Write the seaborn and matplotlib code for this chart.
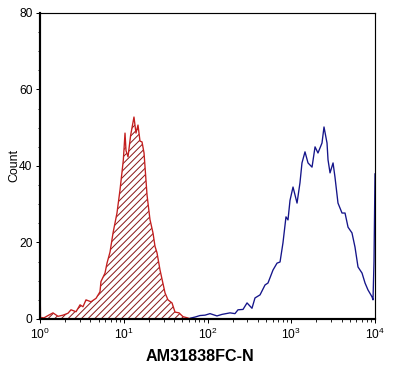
import numpy as np
import pandas as pd
import matplotlib
matplotlib.use('Agg')
import matplotlib.pyplot as plt
import matplotlib.ticker as mticker
import seaborn as sns

# Isotype control histogram (red, hatched): log10 intensity / event count
iso_log = [0.000, 0.006, 0.048, 0.096, 0.155, 0.215, 0.275, 0.334, 0.370, 0.430,
           0.478, 0.513, 0.549, 0.609, 0.669, 0.716, 0.728, 0.776, 0.800, 0.836,
           0.872, 0.919, 0.955, 0.979, 0.995, 1.015, 1.027, 1.051, 1.082, 1.122,
           1.146, 1.170, 1.194, 1.218, 1.242, 1.278, 1.313, 1.349, 1.373, 1.397,
           1.433, 1.493, 1.528, 1.576, 1.612, 1.660, 1.707, 1.760, 1.800]
iso_count = [9.7, 0.4, 0.3, 0.9, 1.6, 0.7, 1.0, 1.5, 2.4, 1.9,
             3.7, 3.2, 5.0, 4.5, 5.4, 7.1, 9.8, 12.0, 14.6, 17.5,
             22.5, 27.7, 33.7, 38.4, 41.6, 48.6, 44.0, 42.4, 48.0, 52.8,
             48.6, 50.7, 46.5, 46.3, 43.4, 32.4, 26.0, 22.5, 19.0, 17.3,
             12.8, 6.8, 5.0, 4.2, 1.8, 1.6, 0.6, 0.3, 0.0]

# AM31838FC-N stained histogram (blue)
ab_log = [1.791, 1.851, 1.910, 1.970, 2.030, 2.113, 2.173, 2.269, 2.328, 2.364,
          2.424, 2.472, 2.531, 2.567, 2.627, 2.687, 2.722, 2.782, 2.830, 2.866,
          2.901, 2.937, 2.961, 2.985, 3.021, 3.069, 3.104, 3.128, 3.164, 3.200,
          3.248, 3.284, 3.319, 3.367, 3.391, 3.427, 3.439, 3.463, 3.499, 3.522,
          3.558, 3.606, 3.642, 3.678, 3.725, 3.761, 3.797, 3.845, 3.881, 3.916,
          3.964, 3.976, 3.988, 4.000]
ab_count = [0.2, 0.5, 0.9, 1.0, 1.4, 0.8, 1.2, 1.6, 1.4, 2.4,
            2.5, 4.2, 2.8, 5.5, 6.3, 8.9, 9.4, 12.8, 14.6, 14.9,
            19.9, 26.7, 25.9, 31.0, 34.5, 30.3, 35.6, 40.8, 43.7, 40.8,
            39.7, 45.0, 43.4, 46.0, 50.2, 46.0, 41.6, 38.2, 40.8, 37.1,
            30.3, 27.7, 27.7, 24.0, 22.5, 18.8, 13.6, 12.0, 9.4, 7.6,
            5.8, 5.0, 15.0, 38.0]

y_ticks = [0, 20, 40, 60, 80]

sns.set_style('ticks')
plt.rcParams['font.family'] = ['Liberation Sans', 'DejaVu Sans']
plt.rcParams['text.color'] = 'black'
plt.rcParams['axes.labelcolor'] = 'black'
plt.rcParams['hatch.color'] = '#8B1A1A'
plt.rcParams['hatch.linewidth'] = 0.6

iso = pd.DataFrame({'intensity': np.power(10.0, iso_log), 'count': iso_count})
ab = pd.DataFrame({'intensity': np.power(10.0, ab_log), 'count': ab_count})

DPI = 120
fig = plt.figure(figsize=(407 / DPI, 368 / DPI), dpi=DPI)
ax = fig.add_axes([0.0983, 0.1332, 0.8231, 0.8315])

ax.fill_between(iso['intensity'], iso['count'], 0, facecolor='none',
                edgecolor='#8B1A1A', hatch='//////', linewidth=0)
sns.lineplot(data=iso, x='intensity', y='count', color='#C41E1E', lw=0.8,
             estimator=None, sort=False, ax=ax)
sns.lineplot(data=ab, x='intensity', y='count', color='#15158A', lw=0.8,
             estimator=None, sort=False, ax=ax)

ax.set_xscale('log')
ax.set_xlim(1, 1e4)
ax.set_ylim(0, 80)
ax.set_yticks(y_ticks)
ax.yaxis.set_minor_locator(mticker.MultipleLocator(5))
ax.xaxis.set_major_locator(mticker.LogLocator(base=10))
ax.xaxis.set_minor_locator(mticker.LogLocator(base=10, subs=np.arange(2, 10)))
ax.xaxis.set_minor_formatter(mticker.NullFormatter())

for side in ['left', 'bottom']:
    ax.spines[side].set_linewidth(1.3)
for side in ['top', 'right']:
    ax.spines[side].set_linewidth(0.7)
for s in ax.spines.values():
    s.set_color('black')

ax.tick_params(which='major', direction='out', length=2.5, width=0.6,
               labelsize=7.2, pad=2, colors='black')
ax.tick_params(which='minor', direction='out', length=1.5, width=0.5,
               colors='black')

ax.set_xlabel('AM31838FC-N', fontsize=9.7, fontweight='bold')
ax.xaxis.set_label_coords(0.478, -0.122)
ax.xaxis.label.set_va('center')
ax.set_ylabel('Count', fontsize=7.4)
ax.yaxis.set_label_coords(-0.076, 0.5)
ax.yaxis.label.set_va('center')

fig.savefig('out.png', dpi=DPI)
